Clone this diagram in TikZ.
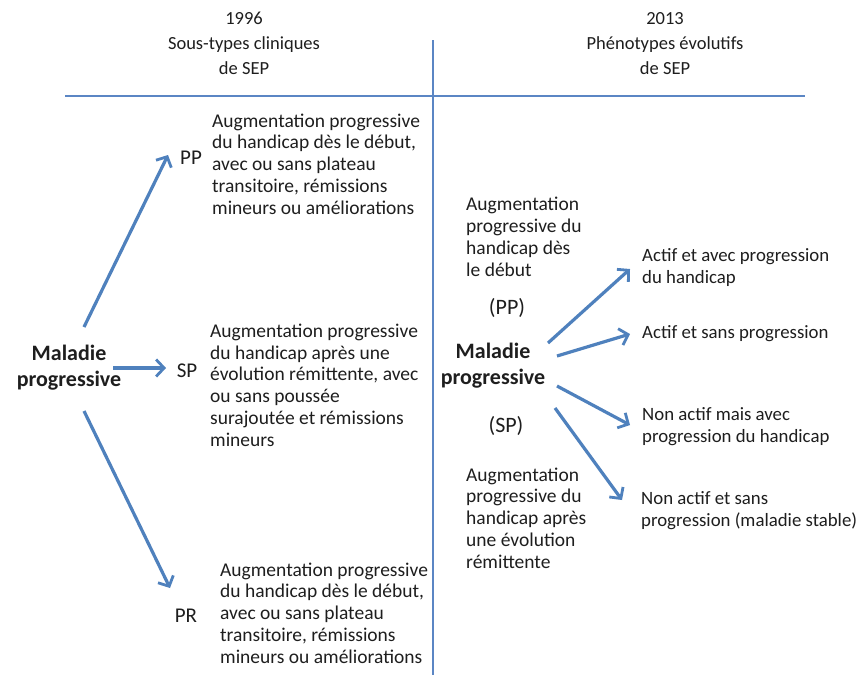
\documentclass[tikz,border=0pt]{standalone}
\usepackage{fontspec}
\setmainfont{Carlito}
\usetikzlibrary{arrows.meta}
\definecolor{arrblue}{HTML}{4F81BD}
\definecolor{lineblue}{HTML}{5B86C4}
\definecolor{txtc}{HTML}{1E1E1E}
\tikzset{
  txt/.style={align=left, inner sep=0pt, text=txtc, font=\fontsize{19.5}{21.7}\selectfont, anchor=base west},
  rtxt/.style={txt, font=\fontsize{18.8}{21.7}\selectfont},
  btxt/.style={align=center, inner sep=0pt, text=txtc, font=\fontsize{22}{26}\selectfont\bfseries, anchor=base},
  lab/.style={inner sep=0pt, text=txtc, font=\fontsize{21}{24}\selectfont, anchor=base},
  hdr/.style={align=center, inner sep=0pt, text=txtc, font=\fontsize{18.5}{25}\selectfont, anchor=base},
  arr/.style={draw=arrblue, line width=3.2pt, -{Straight Barb[length=8pt,width=17pt,line width=2.8pt]}},
  rule/.style={draw=lineblue, line width=1.4pt}
}
\begin{document}
\begin{tikzpicture}[x=1pt,y=-1pt]
\useasboundingbox (0,0) rectangle (861,675);
\fill[white] (0,0) rectangle (861,675);
% headers (anchor = baseline of last line)
\node[hdr] (h1) at (244,74) {1996\\Sous-types cliniques\\de SEP};
\node[hdr] (h2) at (665,74) {2013\\Phénotypes évolutifs\\de SEP};
\coordinate (hl) at (65,96);
\coordinate (hr) at (805,96);
\coordinate (vt) at (433,40);
\coordinate (vb) at (433,675);
\draw[rule] (hl) -- (hr);
\draw[rule] (vt) -- (vb);
% left side
\node[btxt] (mp1) at (69,386) {Maladie\\progressive};
\node[lab] (pp) at (191,164) {PP};
\node[lab] (sp) at (187,377) {SP};
\node[lab] (pr) at (186,622) {PR};
\node[txt] (tpp) at (212,214) {Augmentation progressive\\du handicap dès le début,\\avec ou sans plateau\\transitoire, rémissions\\mineurs ou améliorations};
\node[txt] (tsp) at (210,446) {Augmentation progressive\\du handicap après une\\évolution rémittente, avec\\ou sans poussée\\surajoutée et rémissions\\mineurs};
\node[txt] (tpr) at (220,663) {Augmentation progressive\\du handicap dès le début,\\avec ou sans plateau\\transitoire, rémissions\\mineurs ou améliorations};
\coordinate (a1s) at (84,327);
\coordinate (a1e) at (168,155);
\coordinate (a2s) at (113,368);
\coordinate (a2e) at (166,368);
\coordinate (a3s) at (84,411);
\coordinate (a3e) at (170,588);
\draw[arr] (a1s) -- (a1e);
\draw[arr] (a2s) -- (a2e);
\draw[arr] (a3s) -- (a3e);
% right side
\node[txt] (rpp) at (466,276) {Augmentation\\progressive du\\handicap dès\\le début};
\node[lab, font=\fontsize{22}{24}\selectfont] (ppr) at (507,314) {(PP)};
\node[btxt] (mp2) at (493,384) {Maladie\\progressive};
\node[lab, font=\fontsize{22}{24}\selectfont] (spr) at (506,432) {(SP)};
\node[txt] (rsp) at (466,568) {Augmentation\\progressive du\\handicap après\\une évolution\\rémittente};
\node[rtxt] (r1) at (642,283) {Actif et avec progression\\du handicap};
\node[rtxt] (r2) at (642,338) {Actif et sans progression};
\node[rtxt] (r3) at (642,442) {Non actif mais avec\\progression du handicap};
\node[rtxt] (r4) at (641,526) {Non actif et sans\\progression (maladie stable)};
\coordinate (b1s) at (548,343);
\coordinate (b1e) at (630,269);
\coordinate (b2s) at (557,356);
\coordinate (b2e) at (630,334);
\coordinate (b3s) at (557,386);
\coordinate (b3e) at (630,425);
\coordinate (b4s) at (555,408);
\coordinate (b4e) at (622,500);
\draw[arr] (b1s) -- (b1e);
\draw[arr] (b2s) -- (b2e);
\draw[arr] (b3s) -- (b3e);
\draw[arr] (b4s) -- (b4e);
\end{tikzpicture}
\end{document}
